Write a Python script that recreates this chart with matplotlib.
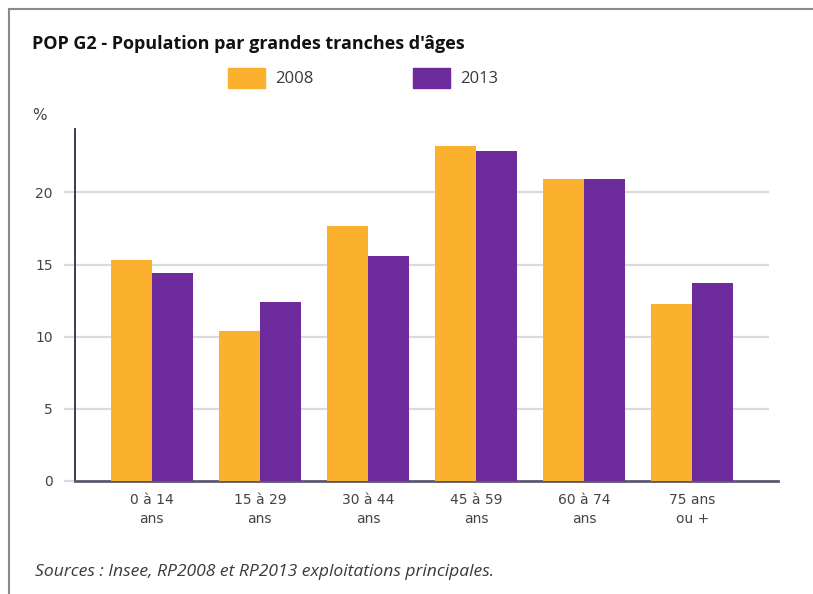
import matplotlib
matplotlib.use("Agg")
import matplotlib.pyplot as plt
import numpy as np

# data
categories = ["0 à 14\nans", "15 à 29\nans", "30 à 44\nans", "45 à 59\nans", "60 à 74\nans", "75 ans\nou +"]
values_2008 = [15.3, 10.4, 17.7, 23.2, 20.9, 12.3]
values_2013 = [14.4, 12.4, 15.6, 22.9, 20.9, 13.7]
years = ["2008", "2013"]
yticks = [0, 5, 10, 15, 20]

orange = "#FBB12E"
purple = "#6E2B9C"
grid_col = "#DADADF"
text_col = "#3A3A3A"

fig = plt.figure(figsize=(8.13, 5.94), dpi=100)
W, H = 813, 594

# axes box in pixels: left 75, right 769, top 129, bottom 481
ax = fig.add_axes([75 / W, 1 - 481 / H, (769 - 75) / W, (481 - 129) / H])

x = np.arange(len(categories))
bw = 0.38
ax.bar(x - bw / 2, values_2008, bw, color=orange, zorder=3)
ax.bar(x + bw / 2, values_2013, bw, color=purple, zorder=3)

ax.set_xlim(-0.71, 5.71)
ax.set_ylim(0, 24.4)

for v in yticks[1:]:
    ax.axhline(v, color=grid_col, lw=1.6, zorder=1)
ax.set_yticks(yticks)
ax.set_yticklabels([str(t) for t in yticks], fontsize=10, color="#444444")
ax.tick_params(axis="y", length=8, width=1.6, color=grid_col, pad=8)

ax.set_xticks(x)
ax.set_xticklabels(categories, fontsize=10, color="#444444", linespacing=1.45)
ax.tick_params(axis="x", length=0, pad=9)

for s in ["top", "right"]:
    ax.spines[s].set_visible(False)
ax.spines["left"].set_color("#2B2B45")
ax.spines["left"].set_linewidth(1.3)
ax.spines["bottom"].set_color("#5A5A6E")
ax.spines["bottom"].set_linewidth(2)
ax.spines["bottom"].set_bounds(-0.71, 5.79)

# "%" label
fig.text(32 / W, 1 - 116 / H, "%", fontsize=11, color="#444444", va="center", ha="left")

# title
fig.text(32 / W, 1 - 44 / H, "POP G2 - Population par grandes tranches d'âges",
         fontsize=13, fontweight="bold", family="Open Sans", color="#111111",
         va="center", ha="left")

# legend
for x0, col, lab in [(228, orange, years[0]), (413, purple, years[1])]:
    fig.patches.append(plt.Rectangle((x0 / W, 1 - 88 / H), 37 / W, 20 / H,
                                     transform=fig.transFigure, color=col, figure=fig))
    fig.text((x0 + 47) / W, 1 - 79 / H, lab, fontsize=12, color=text_col,
             family="Open Sans", va="center", ha="left")

# source
fig.text(35 / W, 1 - 572 / H, "Sources : Insee, RP2008 et RP2013 exploitations principales.",
         fontsize=12.6, style="italic", family="Open Sans", color=text_col,
         va="center", ha="left")

# outer border
fig.patches.append(plt.Rectangle((9 / W, -0.1), 1.2, 1 - 9 / H + 0.1,
                                 transform=fig.transFigure, fill=False,
                                 edgecolor="#8A8A8A", lw=1.5, figure=fig))

fig.savefig("out.png", dpi=100)
